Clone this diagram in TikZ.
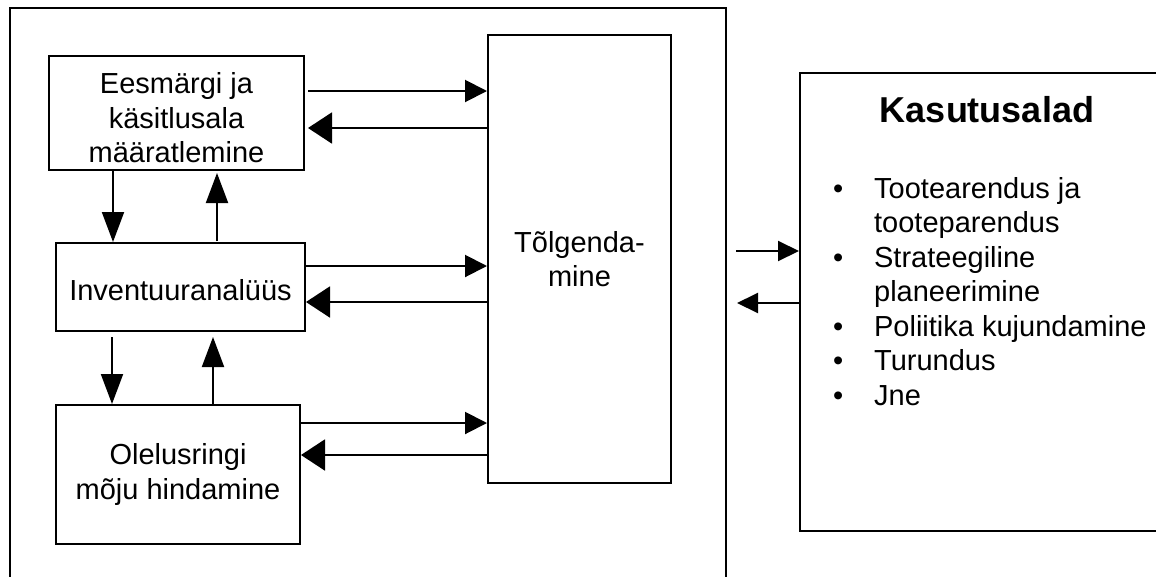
\documentclass[tikz,border=0pt]{standalone}
\usepackage{fontspec}
\setmainfont{Liberation Sans}
\usetikzlibrary{arrows.meta}
\begin{document}
\begin{tikzpicture}[x=1pt,y=-1pt,line width=2pt,
  box/.style={draw,rectangle,inner sep=0pt,align=center,
    font=\fontsize{29}{34.5}\selectfont},
  txt/.style={inner sep=0pt,align=center,font=\fontsize{29}{34.5}\selectfont},
  fwd/.style={-{Triangle[length=22pt,width=22pt]}},
  back/.style={-{Triangle[length=24pt,width=31pt]}},
  vert/.style={-{Triangle[length=30pt,width=22pt]}},
  side/.style={-{Triangle[length=21pt,width=20pt]}}]
\useasboundingbox (0,0) rectangle (1156,576);

% outer frame around the assessment phases
\draw (10,8) rectangle (726,582);

% phase boxes
\node[box,minimum width=255pt,minimum height=114pt] (b1) at (176.5,113) {};
\node[txt] (b1t) at (176.5,118) {Eesmärgi ja\\käsitlusala\\määratlemine};
\node[box,minimum width=249pt,minimum height=88pt] (b2) at (180.5,287) {};
\node[txt] (b2t) at (180.5,290) {Inventuuranalüüs};
\node[box,minimum width=244pt,minimum height=139pt] (b3) at (178,474.5)
  {Olelusringi\\mõju hindamine};
\node[box,minimum width=183pt,minimum height=448pt] (T) at (579.5,259)
  {Tõlgenda-\\mine};

% applications box
\node[draw,rectangle,inner sep=0pt,minimum width=362pt,minimum height=458pt] (K) at (981,302) {};
\node[anchor=base,font=\fontsize{36}{40}\selectfont\bfseries] (Kt) at (987,122) {Kasutusalad};
\node[anchor=base west,inner sep=0pt,font=\fontsize{29}{34.5}\selectfont] (Kl) at (832,198)
  {\begin{tabular}[t]{@{}l@{\hspace{31pt}}l@{}}
   • & Tootearendus ja\\
     & tooteparendus\\
   • & Strateegiline\\
     & planeerimine\\
   • & Poliitika kujundamine\\
   • & Turundus\\
   • & Jne
   \end{tabular}};

% links between phases and interpretation
\draw[fwd,shorten <=3pt] (b1.east |- 0,91) -- (T.west |- 0,91);
\draw[back,shorten >=3pt] (T.west |- 0,128) -- (b1.east |- 0,128);
\draw[fwd] (b2.east |- 0,266) -- (T.west |- 0,266);
\draw[back] (T.west |- 0,302) -- (b2.east |- 0,302);
\draw[fwd] (b3.east |- 0,423) -- (T.west |- 0,423);
\draw[back] (T.west |- 0,455) -- (b3.east |- 0,455);

% links between successive phases
\draw[vert] (b1.south -| 113,0) -- (b2.north -| 113,0);
\draw[vert,shorten <=1pt,shorten >=2pt] (b2.north -| 217,0) -- (b1.south -| 217,0);
\draw[vert,shorten <=5pt] (b2.south -| 112,0) -- (b3.north -| 112,0);
\draw[vert,shorten >=5pt] (b3.north -| 213,0) -- (b2.south -| 213,0);

% links to the applications
\coordinate (inL) at (736,251);
\coordinate (outL) at (737,303);
\draw[side] (inL) -- (K.west |- inL);
\draw[side] (K.west |- outL) -- (outL);
\end{tikzpicture}
\end{document}
